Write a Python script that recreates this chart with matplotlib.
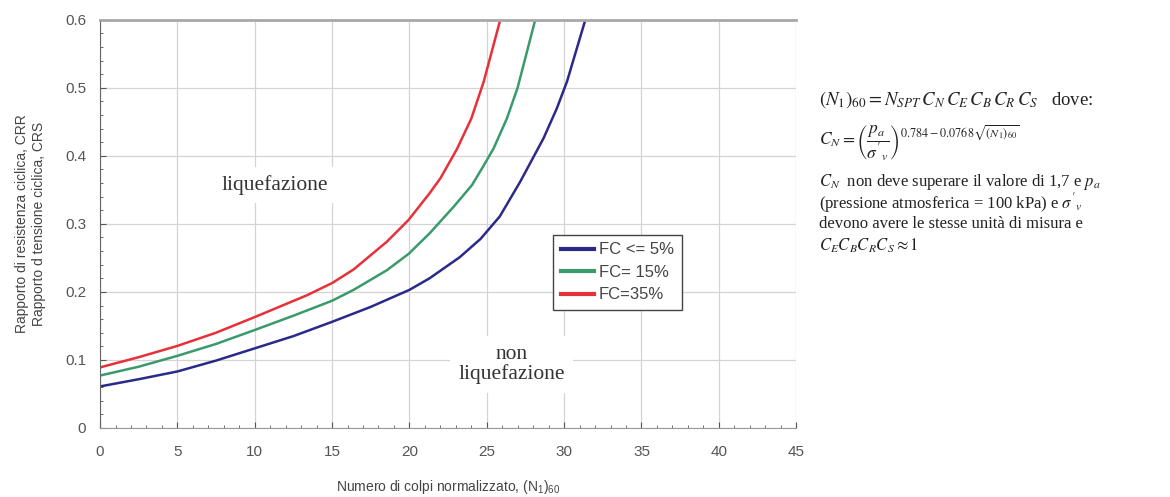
import matplotlib
matplotlib.use("Agg")
import matplotlib.pyplot as plt
from matplotlib.ticker import MultipleLocator

plt.rcParams['font.family'] = ['Liberation Sans', 'DejaVu Sans']
plt.rcParams['mathtext.fontset'] = 'stix'

# curve values
n_blue = [0, 2.5, 5, 7.5, 10, 12.5, 15, 17.5, 20, 21.3, 23.25, 24.6, 25.84, 27.16, 28.67, 29.53, 30.18, 31.37]
crr_blue = [0.061, 0.0716, 0.083, 0.099, 0.117, 0.135, 0.156, 0.178, 0.203, 0.220, 0.251, 0.278, 0.311, 0.362, 0.426, 0.470, 0.509, 0.600]

n_green = [0, 2.5, 5, 7.5, 10, 12.5, 15, 16.39, 18.55, 19.95, 21.3, 22.85, 24.04, 24.78, 25.44, 26.3, 26.99, 28.13]
crr_green = [0.077, 0.090, 0.106, 0.1235, 0.144, 0.165, 0.187, 0.203, 0.232, 0.256, 0.286, 0.325, 0.357, 0.385, 0.411, 0.455, 0.500, 0.600]

n_red = [0, 2.5, 5, 7.5, 10, 13.37, 15, 16.39, 18.55, 19.95, 21.3, 22.0, 23.07, 24.0, 24.8, 25.87]
crr_red = [0.089, 0.104, 0.1206, 0.140, 0.163, 0.195, 0.213, 0.233, 0.274, 0.306, 0.345, 0.367, 0.410, 0.455, 0.509, 0.600]

labels = ['FC <= 5%', 'FC= 15%', 'FC=35%']
colors = ['#2a2a8a', '#3a9a6c', '#e8303a']

xticks = [0, 5, 10, 15, 20, 25, 30, 35, 40, 45]
yticks = [0, 0.1, 0.2, 0.3, 0.4, 0.5, 0.6]
ytick_labels = ['0', '0.1', '0.2', '0.3', '0.4', '0.5', '0.6']

fig = plt.figure(figsize=(11.7, 4.97), dpi=100)
ax = fig.add_axes([0.0855, 0.139, 0.595, 0.821])

ax.plot(n_blue, crr_blue, color=colors[0], lw=1.8, label=labels[0])
ax.plot(n_green, crr_green, color=colors[1], lw=1.8, label=labels[1])
ax.plot(n_red, crr_red, color=colors[2], lw=1.8, label=labels[2])

ax.set_xlim(0, 45)
ax.set_ylim(0, 0.6)
ax.set_xticks(xticks)
ax.set_xticklabels([str(v) for v in xticks])
ax.set_yticks(yticks)
ax.set_yticklabels(ytick_labels)
ax.xaxis.set_minor_locator(MultipleLocator(1))
ax.yaxis.set_minor_locator(MultipleLocator(0.02))
ax.tick_params(axis='both', which='both', direction='in', colors='#555555', labelsize=11)
ax.tick_params(axis='both', which='major', length=4)
ax.tick_params(axis='both', which='minor', length=2)
ax.tick_params(axis='x', pad=12)
ax.tick_params(axis='y', pad=10)
ax.grid(True, which='major', color='#d4d4d4', lw=0.9)
ax.set_axisbelow(True)

ax.spines['right'].set_visible(False)
ax.spines['top'].set_color('#a8a8a8')
ax.spines['top'].set_linewidth(2)
ax.spines['left'].set_color('#666666')
ax.spines['bottom'].set_color('#999999')

ax.set_xlabel('Numero di colpi normalizzato, $\\mathregular{(N_1)_{60}}$', fontsize=10, color='#444444', labelpad=14)
ax.set_ylabel('Rapporto di resistenza ciclica, CRR\nRapporto d tensione ciclica, CRS', fontsize=10, color='#444444', labelpad=14)

ax.text(11.3, 0.357, 'liquefazione', family=['Liberation Serif'], fontsize=15.5, color='#333333',
        ha='center', va='center', bbox=dict(facecolor='white', edgecolor='none', pad=6))
ax.text(26.6, 0.093, 'non\nliquefazione', family=['Liberation Serif'], fontsize=15.5, color='#333333',
        ha='center', va='center', linespacing=1.05, bbox=dict(facecolor='white', edgecolor='none', pad=6))

leg = ax.legend(loc='upper left', bbox_to_anchor=(0.651, 0.473), fontsize=12, fancybox=False,
                framealpha=1, edgecolor='#444444', handlelength=2.0, handletextpad=0.3,
                borderpad=0.45, labelspacing=0.45, borderaxespad=0)
leg.get_frame().set_linewidth(1.0)
for t in leg.get_texts():
    t.set_color('#444444')
for ln in leg.get_lines():
    ln.set_linewidth(3)

tc = '#222222'
fig.text(0.70, 0.80, '$(N_1)_{60} = N_{SPT}\\,C_N\\,C_E\\,C_B\\,C_R\\,C_S$   dove:', fontsize=13.5, color=tc,
         family=['Liberation Serif'], va='center')
fig.text(0.70, 0.712, '$C_N = \\left(\\dfrac{p_a}{\\sigma\'_v}\\right)^{0.784-0.0768\\sqrt{(N_1)_{60}}}$', fontsize=12.5,
         color=tc, va='center')
fig.text(0.70, 0.634, '$C_N$  non deve superare il valore di 1,7 e $p_a$', fontsize=12, color=tc,
         family=['Liberation Serif'], va='center')
fig.text(0.70, 0.592, '(pressione atmosferica = 100 kPa) e $\\sigma\'_v$', fontsize=12, color=tc,
         family=['Liberation Serif'], va='center')
fig.text(0.70, 0.549, 'devono avere le stesse unità di misura e', fontsize=12, color=tc,
         family=['Liberation Serif'], va='center')
fig.text(0.70, 0.506, '$C_E C_B C_R C_S \\approx 1$', fontsize=12, color=tc,
         family=['Liberation Serif'], va='center')

fig.savefig('out.png', dpi=100, facecolor='white')
